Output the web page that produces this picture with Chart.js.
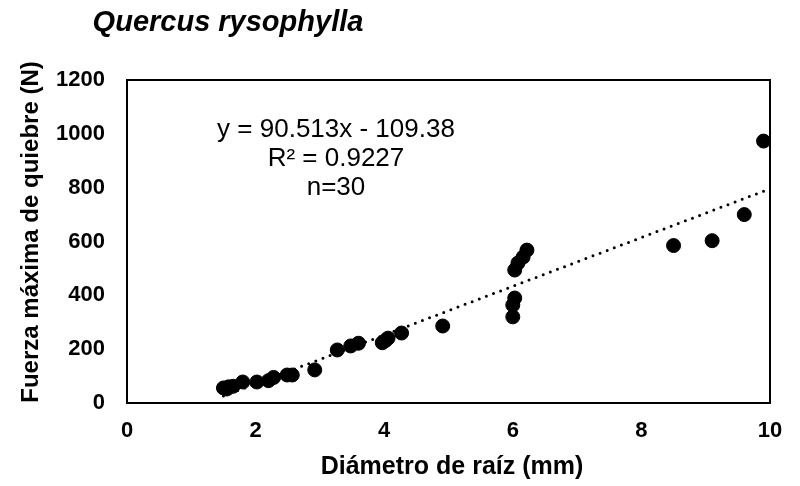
<!DOCTYPE html>
<html>
<head>
<meta charset="utf-8">
<script src="https://cdn.jsdelivr.net/npm/chart.js@4.4.0/dist/chart.umd.min.js"></script>
<style>
  html, body { margin: 0; padding: 0; background: #fff; }
</style>
</head>
<body>
<canvas id="myChart" width="800" height="486"></canvas>
<script>
// Datos
const diametro = [1.50, 1.58, 1.65, 1.80, 2.02, 2.20, 2.28, 2.49, 2.57, 2.92,
                  3.27, 3.48, 3.60, 3.97, 4.02, 4.06, 4.27, 4.91,
                  6.00, 6.00, 6.03, 6.03, 6.08, 6.16, 6.22,
                  8.50, 9.10, 9.60, 9.90, 1.55];
const fuerza = [56, 60, 62, 78, 78, 83, 95, 104, 104, 123,
                197, 212, 222, 224, 232, 241, 260, 286,
                320, 364, 390, 494, 520, 542, 568,
                585, 603, 700, 973, 52];
const trendX = [1.5, 9.9];
const trendY = [26, 787];
const xTicks = [0, 2, 4, 6, 8, 10];
const yTicks = [0, 200, 400, 600, 800, 1000, 1200];

const titulo = 'Quercus rysophylla';
const tituloX = 'Diámetro de raíz (mm)';
const tituloY = 'Fuerza máxima de quiebre (N)';
const ecuacion = ['y = 90.513x - 109.38', 'R² = 0.9227', 'n=30'];

const FONT = "'Liberation Sans', Arial, sans-serif";
Chart.defaults.color = '#000';
Chart.defaults.font.family = FONT;

const puntos = diametro.map((d, i) => ({x: d, y: fuerza[i]}));
const tendencia = trendX.map((d, i) => ({x: d, y: trendY[i]}));

// marco del area y textos fijos
const textosExtra = {
    id: 'textosExtra',
    beforeDatasetsDraw(chart) {
        const {ctx, chartArea: a} = chart;
        ctx.save();
        ctx.strokeStyle = '#000';
        ctx.lineWidth = 2;
        ctx.strokeRect(a.left, a.top, a.right - a.left, a.bottom - a.top);
        ctx.restore();
    },
    afterDraw(chart) {
        const ctx = chart.ctx;
        ctx.save();
        ctx.fillStyle = '#000';
        ctx.textAlign = 'center';
        ctx.textBaseline = 'alphabetic';

        ctx.font = 'italic bold 29px ' + FONT;
        ctx.fillText(titulo, 228, 31);

        ctx.font = '26px ' + FONT;
        ecuacion.forEach((linea, i) => {
            ctx.fillText(linea, 336, 137 + i * 29);
        });

        ctx.font = 'bold 25px ' + FONT;
        ctx.fillText(tituloX, 452, 474);

        ctx.font = 'bold 24px ' + FONT;
        ctx.textBaseline = 'middle';
        ctx.translate(31, 232);
        ctx.rotate(-Math.PI / 2);
        ctx.fillText(tituloY, 0, 0);
        ctx.restore();
    }
};

const ctx = document.querySelector('#myChart');
const myChart = new Chart(ctx, {
    type: 'scatter',
    data: {
        datasets: [
            {
                label: 'Tendencia',
                data: tendencia,
                showLine: true,
                pointRadius: 0,
                borderColor: '#000',
                borderWidth: 3,
                borderDash: [0, 7.6],
                borderCapStyle: 'round',
            },
            {
                label: 'Quercus rysophylla',
                data: puntos,
                backgroundColor: '#000',
                borderColor: '#000',
                pointRadius: 7,
                pointBorderWidth: 1,
            },
        ],
    },
    options: {
        responsive: false,
        animation: false,
        layout: {
            padding: {top: 80, right: 30, left: 0, bottom: 0}
        },
        scales: {
            x: {
                type: 'linear',
                min: xTicks[0],
                max: xTicks[xTicks.length - 1],
                afterFit: (scale) => { scale.height = 83; },
                grid: {display: false, drawTicks: false, tickLength: 0},
                border: {display: false},
                ticks: {
                    stepSize: xTicks[1] - xTicks[0],
                    padding: 15,
                    color: '#000',
                    font: {size: 22, weight: 'bold'},
                    callback: (v) => String(v),
                },
            },
            y: {
                min: yTicks[0],
                max: yTicks[yTicks.length - 1],
                afterFit: (scale) => { scale.width = 127; },
                grid: {display: false, drawTicks: false, tickLength: 0},
                border: {display: false},
                ticks: {
                    stepSize: yTicks[1] - yTicks[0],
                    padding: 22,
                    color: '#000',
                    font: {size: 22, weight: 'bold'},
                    callback: (v) => String(v),
                },
            },
        },
        plugins: {
            legend: {display: false},
            tooltip: {enabled: false},
        },
    },
    plugins: [textosExtra],
});
</script>
</body>
</html>
